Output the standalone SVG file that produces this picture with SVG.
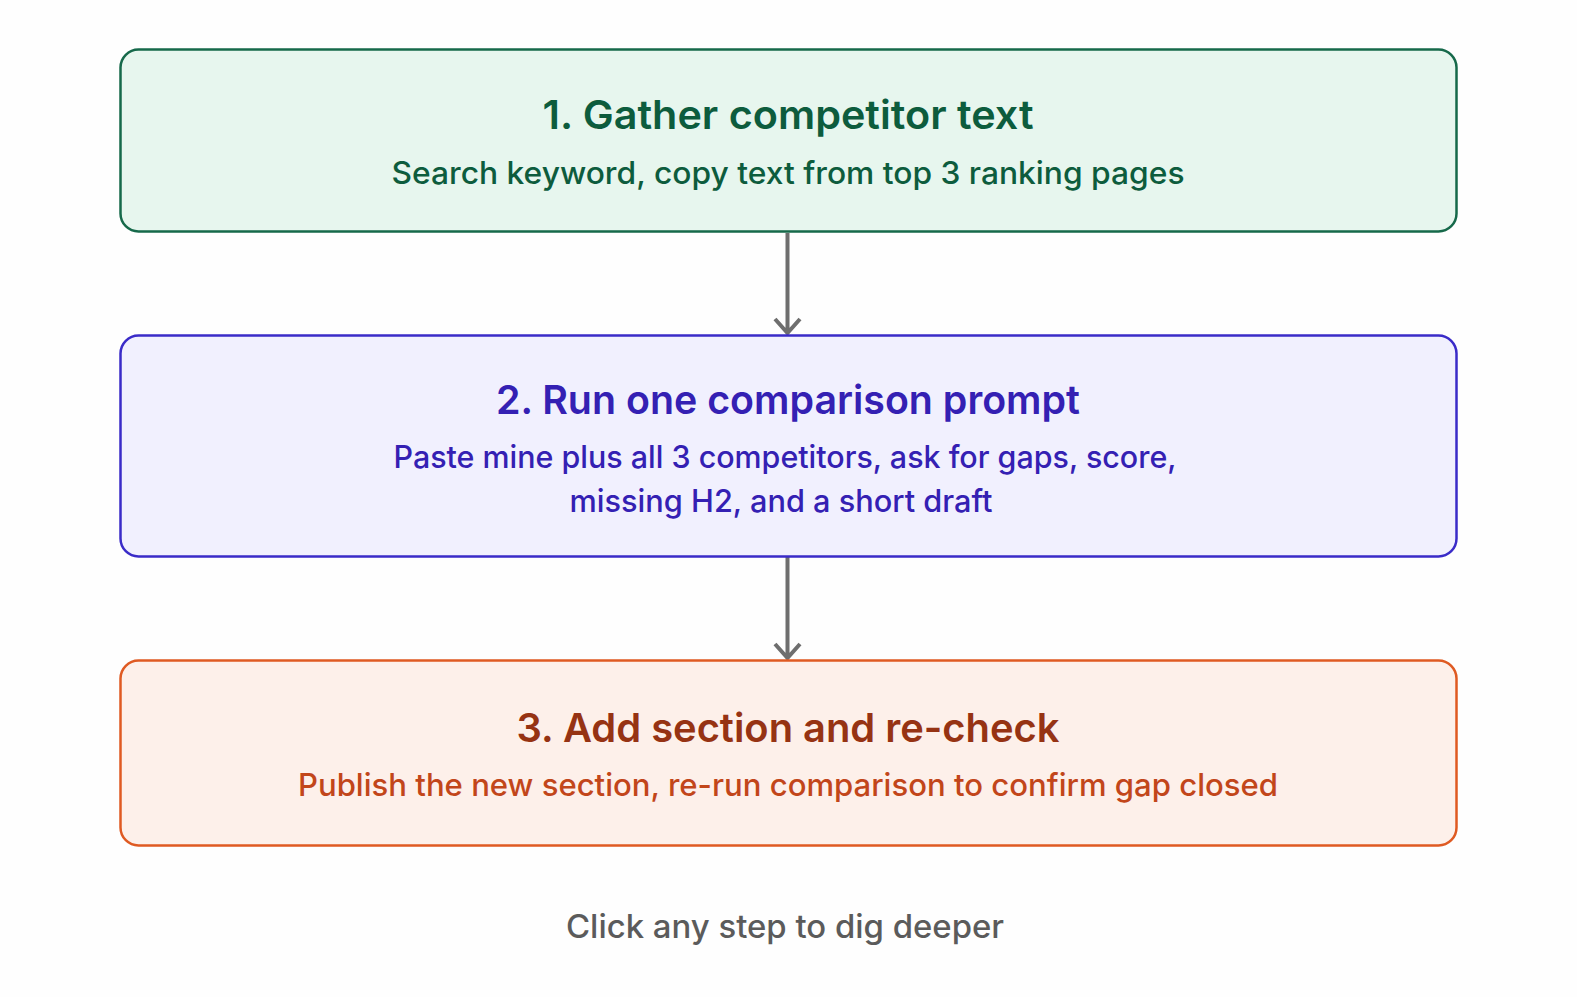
<svg xmlns="http://www.w3.org/2000/svg" width="1577" height="997" viewBox="0 0 1577 997">
<defs>
<style>
.box{stroke-width:2.5}
.t{font-family:Inter,"Liberation Sans",sans-serif;font-weight:600;font-size:40px;text-anchor:middle}
.s{font-family:Inter,"Liberation Sans",sans-serif;font-weight:500;font-size:31px;text-anchor:middle}
.g .box{fill:#e7f6ee;stroke:#16694a}
.g text{fill:#0d5c3d}
.p .box{fill:#f1f0fe;stroke:#3a2bc8}
.p text{fill:#3420b3}
.o .box{fill:#fdf0ea;stroke:#df5a22}
.o .t{fill:#963313}
.o .s{fill:#c2461a}
.conn{stroke:#6e6e6e;stroke-width:4;fill:none}
.foot{font-family:Inter,"Liberation Sans",sans-serif;font-weight:500;font-size:32px;text-anchor:middle;fill:#5b5b5b}
</style>
</defs>
<rect width="1577" height="997" fill="#fefefe"/>
<g id="connectors">
<path class="conn" d="M787.5 233V333M775 319L787.5 333L800 319"/>
<path class="conn" d="M787.5 557V658M775 644L787.5 658L800 644"/>
</g>
<g id="step1" class="g">
<rect class="box" x="120.5" y="49.5" width="1336" height="182" rx="18"/>
<text class="t" x="788" y="129" textLength="491" lengthAdjust="spacingAndGlyphs">1. Gather competitor text</text>
<text class="s" x="788" y="184" textLength="793" lengthAdjust="spacingAndGlyphs">Search keyword, copy text from top 3 ranking pages</text>
</g>
<g id="step2" class="p">
<rect class="box" x="120.5" y="335.5" width="1336" height="221" rx="18"/>
<text class="t" x="788" y="414" textLength="584" lengthAdjust="spacingAndGlyphs">2. Run one comparison prompt</text>
<text class="s" x="785" y="468" textLength="783" lengthAdjust="spacingAndGlyphs">Paste mine plus all 3 competitors, ask for gaps, score,</text>
<text class="s" x="781" y="512" textLength="423" lengthAdjust="spacingAndGlyphs">missing H2, and a short draft</text>
</g>
<g id="step3" class="o">
<rect class="box" x="120.5" y="660.5" width="1336" height="185" rx="18"/>
<text class="t" x="788" y="742" textLength="543" lengthAdjust="spacingAndGlyphs">3. Add section and re-check</text>
<text class="s" x="788" y="796" textLength="980" lengthAdjust="spacingAndGlyphs">Publish the new section, re-run comparison to confirm gap closed</text>
</g>
<text id="footer" class="foot" x="785" y="938" textLength="438" lengthAdjust="spacingAndGlyphs">Click any step to dig deeper</text>
</svg>
